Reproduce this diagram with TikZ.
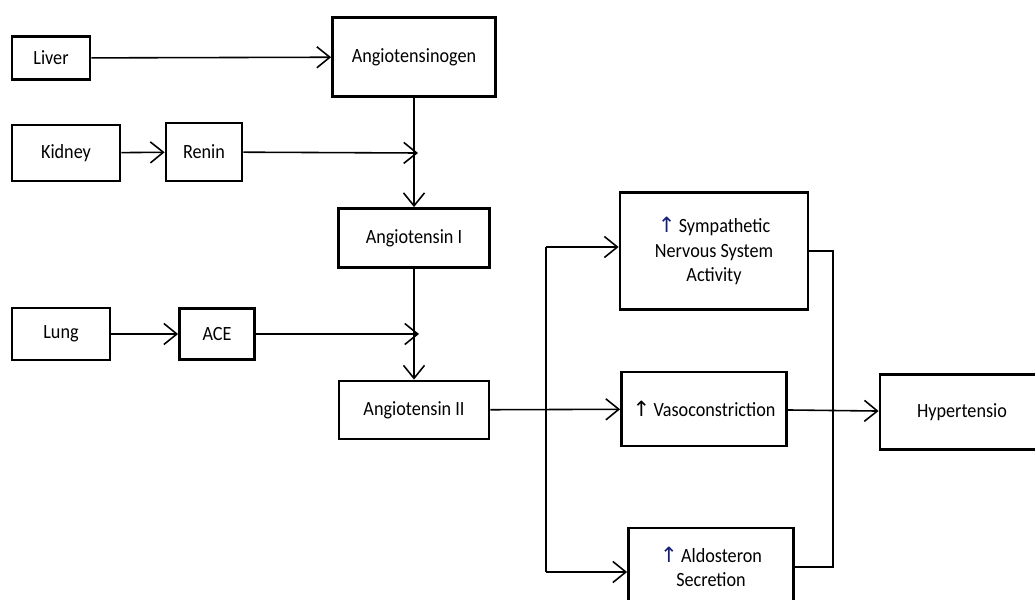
\documentclass[tikz,border=0pt]{standalone}
\usepackage{fontspec}
\setmainfont{Carlito}[FakeStretch=0.9]
\newfontfamily\symfont{DejaVu Sans}
\usepackage{xcolor}
\usepackage{tikz}
\usetikzlibrary{arrows.meta,positioning}

\definecolor{uparrowblue}{RGB}{20,30,120}
\newcommand{\upmark}[1][uparrowblue]{{\symfont\textcolor{#1}{\fontsize{12}{14}\selectfont ↑}}}

\begin{document}
\begin{tikzpicture}[
    x=0.02cm, y=-0.02cm,
    font=\fontsize{11.5}{14}\selectfont,
    box/.style={rectangle, draw, line width=1.6pt, align=center, inner sep=2pt},
    arrow/.style={-{Straight Barb[length=2.6mm, width=4.2mm, line width=0.9pt]}, line width=0.9pt},
    link/.style={line width=0.8pt}
    ]

    \clip (0,0) rectangle (1035,599);
    \fill[white] (0,0) rectangle (1035,599);

    % Sources (left column)
    \node[box, minimum width=1.56cm, minimum height=0.86cm] (liver) at (51,58) {Liver};
    \node[box, minimum width=2.16cm, minimum height=1.12cm] (kidney) at (66,153) {Kidney};
    \node[box, minimum width=1.52cm, minimum height=1.16cm] (renin) at (204,152) {Renin};
    \node[box, minimum width=1.96cm, minimum height=1.04cm] (lung) at (61,334) {Lung};
    \node[box, minimum width=1.50cm, minimum height=1.02cm] (ace) at (217,334) {ACE};

    % Main chain
    \node[box, minimum width=3.26cm, minimum height=1.58cm] (angen) at (414,57) {Angiotensinogen};
    \node[box, minimum width=3.02cm, minimum height=1.18cm] (ang1) at (414,238) {Angiotensin I};
    \node[box, minimum width=3.00cm, minimum height=1.16cm] (ang2) at (414,410) {Angiotensin II};

    % Effects
    \node[box, minimum width=3.76cm, minimum height=2.34cm] (symp) at (714,251) {\upmark\,Sympathetic\\Nervous System\\Activity};
    \node[box, minimum width=3.30cm, minimum height=1.48cm] (vaso) at (704,409) {\upmark[black]\,Vasoconstriction};
    \node[box, minimum width=3.30cm, minimum height=1.56cm] (aldo) at (711,567) {\upmark\,Aldosteron\\Secretion};
    \node[box, minimum width=3.28cm, minimum height=1.50cm] (hyper) at (962,412) {Hypertensio};

    % Junctions
    \coordinate (j1) at (418,153);
    \coordinate (j2) at (419,334);
    \coordinate (splittop) at (546,247);
    \coordinate (splitbot) at (546,572);
    \coordinate (merge) at (833,0);

    % Arrows
    \draw[arrow] (liver) -- (angen);
    \draw[arrow] (kidney) -- (renin);
    \draw[arrow] (renin) -- (j1);
    \draw[arrow] (angen) -- (ang1);
    \draw[arrow] (lung) -- (ace);
    \draw[arrow] (ace) -- (j2);
    \draw[arrow] (ang1) -- (ang2);
    \draw[arrow] (ang2) -- (vaso);
    \draw[link] (splittop) -- (splitbot);
    \draw[arrow] (splittop) -- (symp.west |- splittop);
    \draw[arrow] (splitbot) -- (aldo.west |- splitbot);
    \draw[arrow] (vaso) -- (hyper);
    \draw[link] (symp.east) -- (symp.east -| merge) -- (aldo.east -| merge) -- (aldo.east);

\end{tikzpicture}
\end{document}
